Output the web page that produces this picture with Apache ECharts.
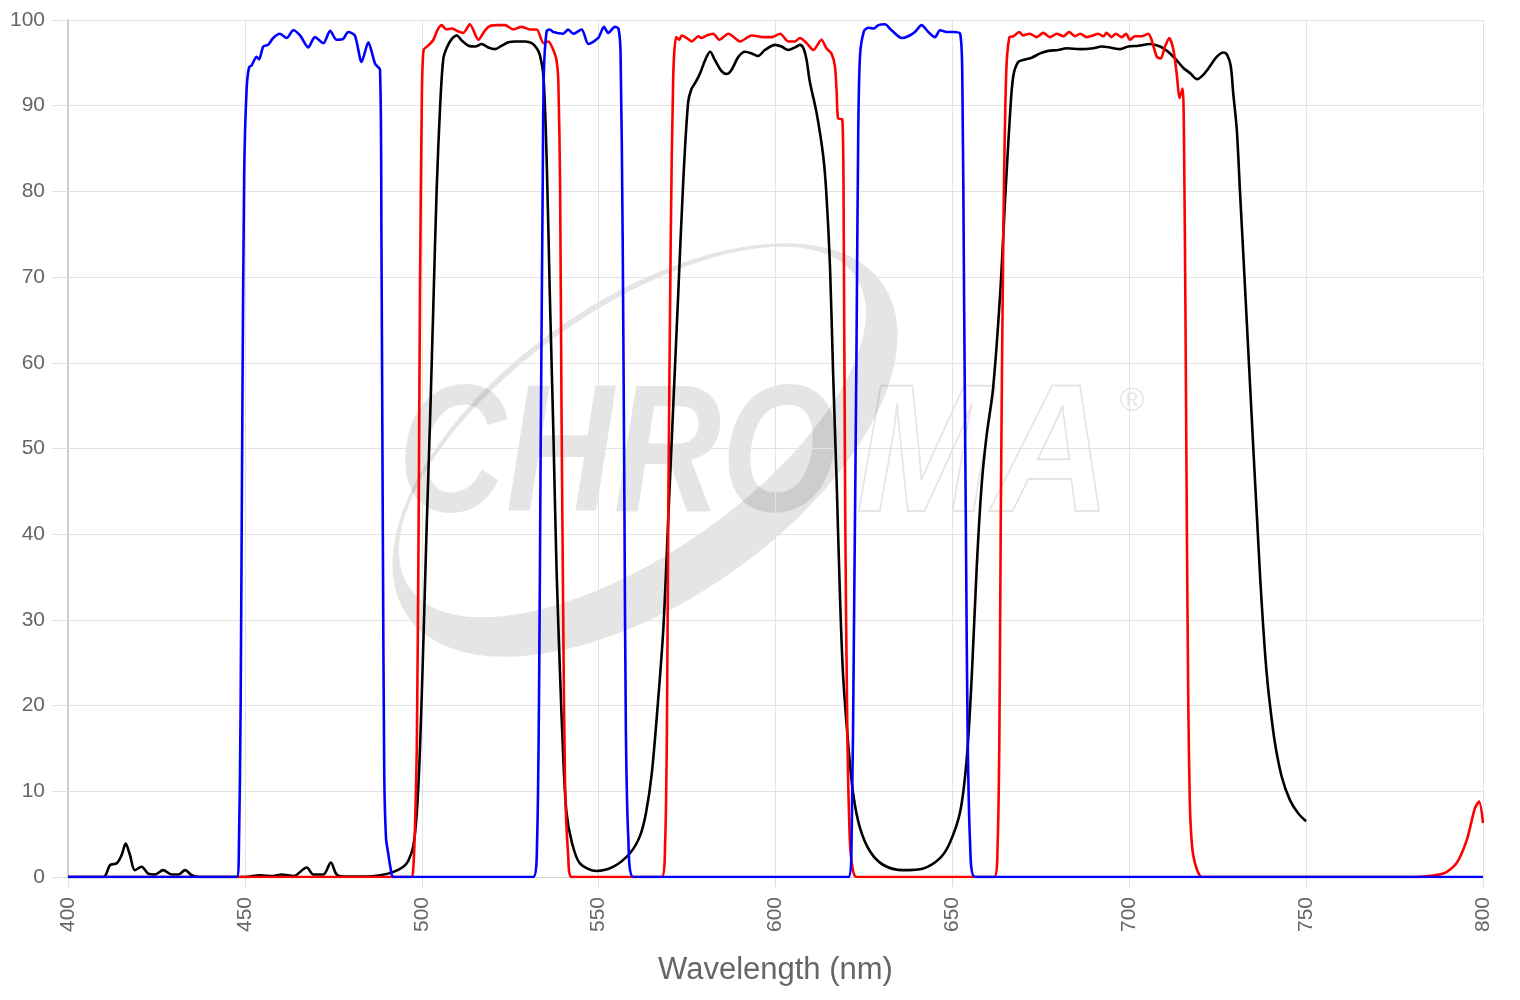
<!DOCTYPE html>
<html>
<head>
<meta charset="utf-8">
<title>Transmission</title>
<script src="https://cdn.jsdelivr.net/npm/echarts/dist/echarts.min.js"></script>
<style>
  html, body { margin: 0; padding: 0; background: #fff; }
  #chart_filters { width: 1520px; height: 1000px; }
</style>
</head>
<body>
<div id="chart_filters"></div>
<script>
  // wavelength (nm) / transmission (%)
  let blueNm = [400, 447.7, 448.3, 448.8, 449.3, 449.8, 450.5, 451.2, 451.9, 453.3, 454, 455.2, 456.6, 458, 459.9, 461.8, 463.7, 465.6, 467.9, 469.8,
    472.2, 474.1, 475.9, 477.8, 479.2, 481.1, 483, 484.9, 486.8, 488.2, 488.6, 489, 489.4, 489.9, 490.5, 491.2, 492,
    531.5, 532.6, 533.2, 533.6, 534.2, 534.5, 535.3, 536.2, 537.2, 540, 541.4, 542.8, 545.2, 547.1, 549.9, 551.5, 552.7, 554.6, 555.6, 556.2,
    556.8, 557.3, 557.7, 558.4, 559.8,
    620.6, 621.5, 622.2, 622.9, 623.4, 623.9, 625, 626.2, 627.7, 629.1, 630.9, 632.8, 635.7, 637.5, 639.4, 641.3, 643.2, 645.1, 646.5, 648.4,
    650.3, 652.2, 652.8, 653.3, 653.9, 654.3, 655, 656.4, 800]
  let blueT = [0, 0, 3, 20, 55, 82, 92, 94.5, 94.7, 95.7, 95.4, 96.9, 97.1, 97.9, 98.4, 97.9, 98.8, 98.2, 96.8, 98.0,
    97.3, 98.75, 97.7, 97.8, 98.6, 98.2, 95.1, 97.4, 94.9, 94.2, 75, 40, 12, 4.5, 2.8, 1, 0,
    0, 4.1, 23.6, 49, 81, 93.6, 98.7, 98.9, 98.6, 98.4, 98.9, 98.4, 98.9, 97.2, 97.9, 99.2, 98.5, 99.2, 99, 96.2,
    74.5, 42.7, 17.2, 4.5, 0,
    0, 4.1, 29.9, 61.8, 87.3, 95.9, 98.7, 99.1, 99, 99.4, 99.5, 98.8, 97.9, 98.1, 98.6, 99.4, 98.6, 98, 98.8, 98.6,
    98.6, 98.4, 93.6, 68.2, 36.3, 17.2, 4.1, 0, 0]

  let redNm = [400, 497, 497.6, 498.1, 498.6, 499.1, 499.5, 500, 500.5, 501.8, 503.3, 504.4, 505.6, 507, 508.5, 509.9, 511.7, 513.6, 516, 517.9,
    519.3, 521.6, 523.5, 525.9, 528.2, 530.6, 532.5, 534.4, 535.8, 537.2, 538.1, 538.6, 539.1, 539.5, 540, 540.5, 541.4, 542.4,
    567.8, 568.8, 569.3, 569.7, 570.4, 571.1, 571.9, 572.8, 573.5, 574.9, 576.3, 578.2, 579.1, 580.5, 582.4, 584.1, 586.7, 590, 593.3, 596.6,
    598.9, 601.3, 603.6, 605.5, 606.9, 608.8, 610.7, 613, 614.4, 615.8, 616.8, 617.3, 617.7, 618.9, 619.3, 619.7, 620.3, 621, 621.8, 622.9,
    661.8, 662.8, 663.3, 663.7, 664.4, 665.2, 666.1, 667.2, 668.9, 670, 671.9, 673.8, 675.7, 677.6, 679.5, 681.4, 683, 684.7, 686.1, 688,
    689.8, 691.2, 692.7, 693.6, 695, 696.2, 697.9, 699.1, 700.2, 701.6, 703.5, 705.4, 706.3, 707.8, 708.9, 710.1, 711.3, 712.5, 713.5, 714.2,
    715.1, 715.5, 715.9, 716.3, 716.7, 717.1, 717.5, 718.1, 719.2, 720.5,
    780.3, 788.8, 792.5, 795.4, 797.7, 798.9, 800]
  let redT = [0, 0, 1, 6, 15, 40, 68, 90, 96.5, 97.0, 97.7, 98.8, 99.4, 98.9, 99.0, 98.75, 98.5, 99.5, 97.7, 98.8,
    99.3, 99.4, 99.4, 98.9, 99.2, 98.9, 98.9, 97.3, 97.5, 96.5, 95.3, 93, 81, 55, 30, 11, 2.5, 0,
    0, 4, 17, 43, 75, 93.6, 98, 97.7, 98.2, 97.9, 97.5, 98.1, 97.9, 98.2, 98.4, 97.7, 98.4, 97.5, 98.2, 98.0,
    98.0, 98.4, 97.5, 97.5, 97.9, 97.3, 96.5, 97.7, 96.7, 96.1, 94.6, 91.5, 88.5, 88.4, 74.5, 42.7, 17.2, 4.5, 1, 0,
    0, 4, 17, 43, 75, 93.6, 98, 98.1, 98.6, 98.2, 98.4, 98.0, 98.5, 98.0, 98.4, 98.1, 98.6, 98.1, 98.4, 98.0,
    98.2, 98.4, 98.1, 98.5, 98.0, 98.4, 98.0, 98.4, 97.7, 98.1, 98.1, 98.4, 97.7, 95.7, 95.5, 96.9, 97.9, 96.5, 93.4, 90.9,
    92.0, 85, 65, 40, 20, 9, 5, 2.5, 0.8, 0,
    0, 0.4, 1.6, 4.3, 8.0, 8.8, 6.3]

  let blackNm = [400, 410, 411.9, 413.8, 415.2, 416.3, 417.5, 418.9, 420.8, 422.7, 424.6, 426.9, 429.3, 431.2, 433.1, 435, 437.3, 450, 454.3, 458,
    460.4, 463.7, 467.5, 469.3, 472.2, 474.3, 475.9, 477.8, 484, 488.2, 492, 494.8, 496.2, 497.6, 498.6, 499.5, 500.5, 501.4, 502.4, 503.3,
    504.2, 505.2, 506.1, 507.1, 508.5, 509.9, 511.3, 513.2, 515.1, 516.9, 518.8, 520.7, 522.6, 524.5, 526.4, 529.2, 531.1, 532.5, 533.4, 534.4,
    535.3, 536.2, 537.2, 538.1, 539.1, 540, 540.9, 542.4, 544.7, 549.4, 554.2, 558.9, 561.7, 563.4, 565, 566.6, 568.3, 569.7, 571.1, 572.5, 573.9,
    575.3, 576.3, 577.5, 578.7, 580.1, 581.5, 582.9, 584.8, 586.2, 587.6, 589.5, 591.4, 593.3, 595.1, 597, 599.9, 601.7, 603.6, 605.5, 606.9,
    607.9, 608.8, 609.7, 611.6, 613.5, 614.4, 615.4, 616.3, 617.3, 618.2, 619.1, 620.6, 622, 623.9, 626.7, 630.5, 636.1, 641.8, 646.5, 649.3,
    652.2, 654.1, 655.5, 656.9, 658.3, 659.7, 661.5, 663.5, 664.9, 666.3, 667.2, 668.6, 670.5, 672.4, 674.8, 677.1, 679.9, 682.3, 686.1, 689.8,
    692.2, 694.5, 697.4, 699.7, 702.6, 705.9, 708.7, 711, 713.4, 715.3, 717.2, 719.2, 720.9, 722.8, 724.7, 726.6, 727.7, 728.7, 729.4, 730.4,
    731.3, 732.2, 733.2, 734.2, 735.2, 736.1, 737, 737.9, 738.8, 739.8, 741.2, 743.1, 745.4, 747.8, 750]
  let blackT = [0, 0, 1.4, 1.6, 2.6, 3.9, 2.6, 0.8, 1.2, 0.4, 0.3, 0.8, 0.3, 0.3, 0.8, 0.2, 0, 0, 0.2, 0.1,
    0.3, 0.1, 1.1, 0.3, 0.3, 1.7, 0.3, 0.05, 0.05, 0.2, 0.6, 1.2, 1.9, 3.6, 7.5, 15, 28, 41, 54, 67,
    80, 90, 95.5, 96.8, 97.8, 98.2, 97.6, 97.0, 96.9, 97.2, 96.8, 96.6, 97.0, 97.4, 97.5, 97.5, 97.3, 96.7, 95.9, 93.4,
    84, 68, 52, 36, 23.6, 14, 7.6, 4.1, 1.6, 0.7, 1.2, 2.8, 4.8, 7.5, 12, 19.5, 29, 42, 55, 68, 81,
    90.4, 92, 92.8, 93.8, 95.3, 96.3, 95.3, 94.0, 93.7, 94.2, 95.7, 96.3, 96.1, 95.8, 96.5, 97.1, 96.9, 96.5, 96.8, 97.1,
    96.7, 95.3, 92.8, 89.2, 84.1, 79.6, 71.3, 58.6, 45.9, 33.1, 23.6, 15.3, 9.6, 5.7, 3.0, 1.4, 0.8, 1.0, 2.2, 4.0,
    7.6, 14, 23.6, 36.3, 45.9, 51.6, 57, 68, 79, 89, 93.4, 95.1, 95.4, 95.6, 96.1, 96.4, 96.5, 96.7, 96.6, 96.7,
    96.9, 96.8, 96.6, 96.9, 97, 97.2, 96.9, 96.3, 95.3, 94.4, 93.8, 93.1, 93.6, 94.6, 95.7, 96.2, 95.9, 94.6, 91.4, 87.2,
    80, 73, 65, 57, 49, 42, 35, 29, 24, 20, 15.6, 11.7, 9.0, 7.4, 6.5]

  function pairs (xs, ys) {
    return xs.map(function (x, i) {
      return [x, ys[i]]
    })
  }

  // watermark swoosh: outer ellipse, then inner ellipse backwards (keyhole polygon)
  function swoosh () {
    let pts = []
    let i, t
    for (i = 0; i <= 90; i++) {
      t = i / 90 * Math.PI * 2
      pts.push([290 * Math.cos(t), 150 * Math.sin(t)])
    }
    for (i = 90; i >= 0; i--) {
      t = i / 90 * Math.PI * 2
      pts.push([272 * Math.cos(t), -22 + 122 * Math.sin(t)])
    }
    return pts
  }

  let chart = echarts.init(document.getElementById('chart_filters'))
  let fontFamily = '"Liberation Sans", Arial, Helvetica, sans-serif'
  let wm = 'rgba(0, 0, 0, 0.1)'

  let options = {
    animation: false,
    backgroundColor: '#fff',
    textStyle: { fontFamily: fontFamily },
    grid: { left: 68, right: 37, top: 20, bottom: 123 },
    graphic: [
      {
        type: 'polygon',
        x: 645,
        y: 450,
        rotation: 35 * Math.PI / 180,
        z: -10,
        shape: { points: swoosh() },
        style: { fill: wm }
      },
      {
        type: 'text',
        x: 398,
        y: 552,
        scaleX: 0.82,
        z: -10,
        style: {
          text: 'CHRO',
          font: 'italic bold 182px ' + fontFamily,
          fill: wm,
          verticalAlign: 'bottom'
        }
      },
      {
        type: 'text',
        x: 856,
        y: 552,
        scaleX: 0.9,
        z: -10,
        style: {
          text: 'MA',
          font: 'italic bold 182px ' + fontFamily,
          fill: 'rgba(255,255,255,0)',
          stroke: wm,
          lineWidth: 2,
          verticalAlign: 'bottom'
        }
      },
      {
        type: 'text',
        x: 1132,
        y: 402,
        z: -10,
        style: {
          text: '®',
          font: '34px ' + fontFamily,
          fill: wm,
          align: 'center',
          verticalAlign: 'middle'
        }
      }
    ],
    xAxis: {
      type: 'value',
      min: 400,
      max: 800,
      interval: 50,
      name: 'Wavelength (nm)',
      nameLocation: 'middle',
      nameGap: 78,
      nameTextStyle: { fontSize: 31, color: '#666' },
      axisLine: { show: true, lineStyle: { color: '#d6d6d6', width: 1 } },
      axisTick: { show: true, length: 10, lineStyle: { color: '#e0e0e0' } },
      axisLabel: { rotate: 90, fontSize: 21, color: '#666', margin: 20 },
      splitLine: { show: true, lineStyle: { color: '#e3e3e3', width: 1 } }
    },
    yAxis: {
      type: 'value',
      min: 0,
      max: 100,
      interval: 10,
      axisLine: { show: true, lineStyle: { color: '#cfcfcf', width: 2 } },
      axisTick: { show: true, length: 16, lineStyle: { color: '#e0e0e0' } },
      axisLabel: { fontSize: 21, color: '#666', margin: 23 },
      splitLine: { show: true, lineStyle: { color: '#e3e3e3', width: 1 } }
    },
    series: [
      {
        name: 'black',
        type: 'line',
        data: pairs(blackNm, blackT),
        showSymbol: false,
        smooth: 0.3,
        lineStyle: { color: '#000', width: 2.6 },
        z: 3
      },
      {
        name: 'red',
        type: 'line',
        data: pairs(redNm, redT),
        showSymbol: false,
        smooth: 0.25,
        lineStyle: { color: '#ff0000', width: 2.6 },
        z: 4
      },
      {
        name: 'blue',
        type: 'line',
        data: pairs(blueNm, blueT),
        showSymbol: false,
        smooth: 0.25,
        lineStyle: { color: '#0000ff', width: 2.6 },
        z: 5
      }
    ]
  }
  chart.setOption(options)
</script>
</body>
</html>
